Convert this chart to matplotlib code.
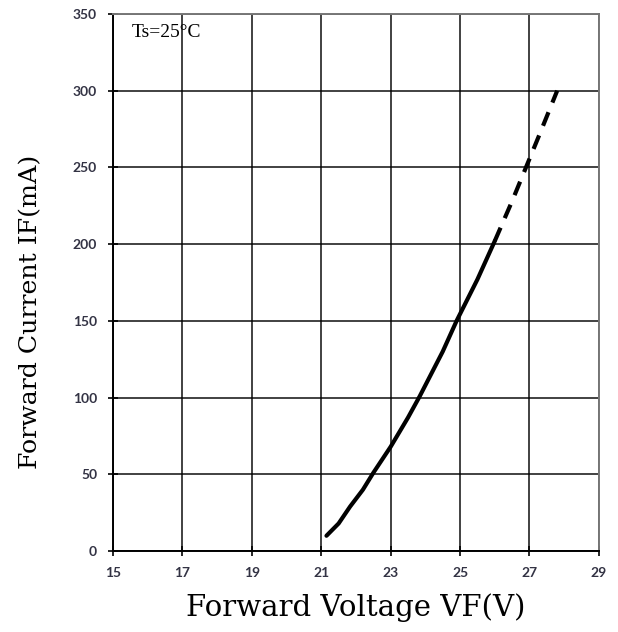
import matplotlib.pyplot as plt

# Courbe IF-VF (partie continue puis pointillée)
vf_solid = [21.15, 21.5, 21.83, 22.2, 22.5, 23.0, 23.5, 23.84, 24.5, 24.9, 25.5, 26.0]
if_solid = [10, 18, 29, 40, 51, 68, 87, 101, 130, 150, 177, 202]
vf_dash = [26.0, 26.5, 26.9, 27.3, 27.8]
if_dash = [202, 228, 250, 272, 300]

x_ticks = [15, 17, 19, 21, 23, 25, 27, 29]
y_ticks = [0, 50, 100, 150, 200, 250, 300, 350]

fig = plt.figure(figsize=(6.18, 6.32), dpi=100)
ax = fig.add_axes([0.183, 0.128, 0.786, 0.850])

ax.plot(vf_solid, if_solid, color='black', linewidth=3, solid_capstyle='round', zorder=3)
ax.plot(vf_dash, if_dash, color='black', linewidth=3, dashes=(3.5, 2.5), zorder=3)

ax.set_xlim(15, 29)
ax.set_ylim(0, 350)
ax.set_xticks(x_ticks)
ax.set_yticks(y_ticks)
ax.grid(True, color='black', linewidth=1.3, alpha=0.8)

for side in ['left', 'bottom']:
    ax.spines[side].set_linewidth(1.4)
for side in ['top', 'right']:
    ax.spines[side].set_linewidth(1.4)
    ax.spines[side].set_color('#777777')

ax.tick_params(direction='inout', length=7, width=1.2, labelsize=10,
               labelcolor='#333344', pad=8)
for lbl in ax.get_xticklabels() + ax.get_yticklabels():
    lbl.set_fontfamily('Lato')
    lbl.set_fontweight('bold')

ax.set_xlabel('Forward Voltage VF(V)', fontfamily='DejaVu Serif', fontsize=21, labelpad=10)
ax.set_ylabel('Forward Current IF(mA)', fontfamily='DejaVu Serif', fontsize=18.2)
ax.yaxis.set_label_coords(-0.145, 0.445)

ax.text(15.55, 338, 'Ts=25°C', fontfamily='Liberation Serif', fontsize=14, va='center')

plt.savefig('out.png', dpi=100)
